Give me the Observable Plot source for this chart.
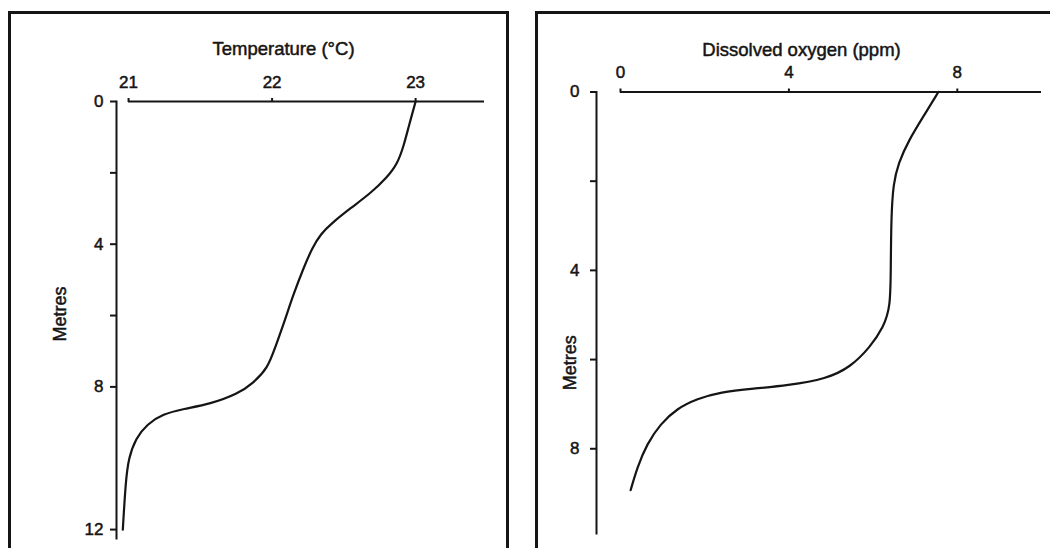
<!DOCTYPE html>
<html>
<head>
<meta charset="utf-8">
<script src="https://cdn.jsdelivr.net/npm/d3@7"></script>
<script src="https://cdn.jsdelivr.net/npm/@observablehq/plot@0.6"></script>
<style>
html, body { margin: 0; padding: 0; background: #fff; width: 1050px; height: 548px; overflow: hidden; }
#wrap { position: relative; width: 1050px; height: 548px; font-family: "Liberation Sans", Arial, Helvetica, sans-serif; }
.panel { position: absolute; top: 0; }
.border { position: absolute; border: 3px solid #151515; box-sizing: border-box; z-index: 2; pointer-events: none; }
</style>
</head>
<body>
<div id="wrap"></div>
<script>
// ---- Temperature profile (left panel) ----
const tempDepth  = [0, 0.73, 1.2, 1.74, 2.13, 2.56, 2.98, 3.43, 3.71, 4.10, 4.66, 5.39, 6.24, 6.91, 7.47, 7.89, 8.20, 8.48, 8.62, 8.76, 9.04, 9.44, 10.0, 10.65, 12.0];
const tempValues = [23.0, 22.95, 22.92, 22.875, 22.80, 22.69, 22.55, 22.41, 22.34, 22.28, 22.22, 22.15, 22.08, 22.02, 21.97, 21.87, 21.76, 21.57, 21.38, 21.24, 21.13, 21.05, 21.0, 20.98, 20.96];
const tempTicks = [21, 22, 23];
const tempDepthTicks = [0, 4, 8, 12];
const tempMinorTicks = [2, 6];
const tempTitle = "Temperature (°C)";

// ---- Dissolved oxygen profile (right panel) ----
const oxyDepth  = [0, 0.48, 1.09, 1.60, 2.05, 2.81, 4.0, 4.82, 5.27, 5.72, 6.17, 6.43, 6.58, 6.65, 6.73, 6.88, 7.10, 7.44, 7.89, 8.41, 8.93];
const oxyValues = [7.55, 7.24, 6.84, 6.60, 6.48, 6.43, 6.42, 6.41, 6.25, 5.93, 5.46, 4.90, 3.96, 3.16, 2.37, 1.82, 1.34, 0.95, 0.63, 0.40, 0.24];
const oxyTicks = [0, 4, 8];
const oxyDepthTicks = [0, 4, 8];
const oxyMinorTicks = [2, 6];
const oxyTitle = "Dissolved oxygen (ppm)";

const depthLabel = "Metres";

const ink = "#151515";
const font = "'Liberation Sans', Arial, Helvetica, sans-serif";
const heavy = {fill: ink, stroke: ink, strokeWidth: 0.5};

function makePanel(cfg) {
  const data = cfg.depth.map((d, i) => ({d, v: cfg.values[i]}));
  const blank = () => "";
  return Plot.plot({
    width: 525,
    height: 548,
    marginLeft: cfg.marginLeft,
    marginRight: cfg.marginRight,
    marginTop: cfg.marginTop,
    marginBottom: cfg.marginBottom,
    x: {domain: cfg.xDomain},
    y: {domain: cfg.yDomain, reverse: true},
    style: {background: "transparent", fontFamily: font, color: ink, overflow: "visible"},
    marks: [
      Plot.frame({anchor: "left", stroke: ink, strokeWidth: 2}),
      Plot.ruleY([0], {x1: cfg.axisStart, x2: cfg.axisEnd, stroke: ink, strokeWidth: 2}),
      // tick marks
      Plot.axisX(cfg.xTicks, {anchor: "top", tickSize: 4, tickFormat: blank, label: null, stroke: ink, strokeWidth: 2}),
      Plot.axisY(cfg.yTicks.concat(cfg.yMinor), {anchor: "left", tickSize: 6, tickFormat: blank, label: null, stroke: ink, strokeWidth: 2}),
      // tick labels
      Plot.text(cfg.xTicks, {x: d => d, y: 0, text: d => String(d), textAnchor: "middle", lineAnchor: "middle", dy: cfg.xLabelDy, fontSize: 17, ...heavy}),
      Plot.text(cfg.yTicks, {y: d => d, frameAnchor: "left", text: d => String(d), textAnchor: "end", lineAnchor: "middle", dx: cfg.yLabelDx, fontSize: 17, ...heavy}),
      // profile curve
      Plot.line(data, {x: "v", y: "d", curve: "basis", stroke: ink, strokeWidth: 2.2}),
      // titles
      Plot.text([cfg.title], {text: d => d, frameAnchor: "top", textAnchor: "middle", lineAnchor: "middle", dx: cfg.titleDx, dy: cfg.titleDy, fontSize: 18.5, ...heavy}),
      Plot.text([depthLabel], {text: d => d, frameAnchor: "left", textAnchor: "middle", lineAnchor: "middle", rotate: -90, dx: cfg.labelDx, dy: cfg.labelDy, fontSize: 18, ...heavy})
    ]
  });
}

const wrap = document.getElementById("wrap");

const left = makePanel({
  depth: tempDepth, values: tempValues,
  marginLeft: 116, marginRight: 41, marginTop: 101, marginBottom: 10,
  xDomain: [20.916, 23.48], yDomain: [0, 12.25],
  axisStart: tempTicks[0], axisEnd: 23.48,
  xTicks: tempTicks, yTicks: tempDepthTicks, yMinor: tempMinorTicks,
  xLabelDy: -19, yLabelDx: -13,
  title: tempTitle, titleDx: -17, titleDy: -52,
  labelDx: -56, labelDy: -6
});
left.classList.add("panel");
left.style.position = "absolute";
left.style.left = "0px";
wrap.appendChild(left);

const right = makePanel({
  depth: oxyDepth, values: oxyValues,
  marginLeft: 71, marginRight: 9, marginTop: 91.5, marginBottom: 15,
  xDomain: [-0.57, 10], yDomain: [0, 9.9],
  axisStart: oxyTicks[0], axisEnd: 10,
  xTicks: oxyTicks, yTicks: oxyDepthTicks, yMinor: oxyMinorTicks,
  xLabelDy: -19.5, yLabelDx: -17,
  title: oxyTitle, titleDx: -17.5, titleDy: -41.5,
  labelDx: -26, labelDy: 50
});
right.classList.add("panel");
right.style.position = "absolute";
right.style.left = "525px";
wrap.appendChild(right);

// panel frames
const b1 = document.createElement("div");
b1.className = "border";
Object.assign(b1.style, {left: "8px", top: "11px", width: "501px", height: "560px"});
wrap.appendChild(b1);
const b2 = document.createElement("div");
b2.className = "border";
Object.assign(b2.style, {left: "535px", top: "11px", width: "530px", height: "560px"});
wrap.appendChild(b2);
</script>
</body>
</html>
